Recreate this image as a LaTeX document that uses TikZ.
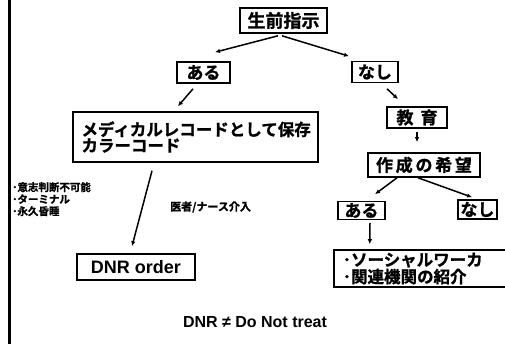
\documentclass[tikz,border=0pt]{standalone}
\usepackage{fontspec}
\setmainfont{Liberation Sans}
\newfontfamily\jp{Noto Sans CJK JP}[BoldFont={* Bold},BoldFeatures={FakeBold=1.2}]
\newfontfamily\jpw{Noto Sans CJK JP}[BoldFont={* Bold},BoldFeatures={FakeBold=1.2},LetterSpace=16]
\usetikzlibrary{arrows.meta,calc}
\begin{document}
\begin{tikzpicture}[x=1pt,y=-1pt,
  box/.style={draw,line width=1.6pt,inner sep=0pt,font=\jp\bfseries\fontsize{17}{20}\selectfont},
  arr/.style={line width=1.5pt,-{Latex[length=5pt,width=4.5pt]}}]
\clip (0,0) rectangle (505,344);
\fill[white] (0,0) rectangle (505,344);
\draw[line width=3pt] (9,0) -- (9,344);
% nodes
\node[box,minimum width=87pt,minimum height=25pt] (seizen) at (283.5,20.5) {\fontsize{18}{20}\selectfont 生前指示};
\node[box,minimum width=53pt,minimum height=21pt] (aru1) at (203.5,72.5) {ある};
\node[box,minimum width=46pt,minimum height=21pt] (nashi1) at (375,72) {なし};
\node[box,minimum height=50pt,text width=228pt,inner xsep=8.5pt,align=left,
  font=\jp\bfseries\fontsize{16.5}{16}\selectfont] (medical) at (195.5,137) {メディカルレコードとして保存\\カラーコード};
\node[box,minimum width=60pt,minimum height=21pt] (kyoiku) at (417,117.5) {教\hspace{7pt}育};
\node[box,minimum width=112pt,minimum height=24pt,font=\jpw\bfseries\fontsize{17}{20}\selectfont] (sakusei) at (424,165) {作成の希望};
\node[box,minimum width=47pt,minimum height=18pt] (aru2) at (361.5,210.5) {ある};
\node[box,minimum width=39pt,minimum height=19pt] (nashi2) at (477.5,209.5) {なし};
\node[box,anchor=west,minimum height=37pt,text width=160pt,inner xsep=9pt,align=left,
  font=\jp\bfseries\fontsize{16.5}{17}\selectfont] (social) at (333,268.5) {･ソーシャルワーカ\\･関連機関の紹介};
\node[box,minimum width=118pt,minimum height=26pt,font=\bfseries\fontsize{18}{20}\selectfont] (dnr) at (136,267) {DNR order};
\node[anchor=north west,inner sep=0pt,align=left,font=\jp\bfseries\fontsize{10.5}{12}\selectfont] (cond) at (12,182) {･意志判断不可能\\･ターミナル\\･永久昏睡};
\node[anchor=west,inner sep=0pt,font=\jp\bfseries\fontsize{11}{12}\selectfont] (doc) at (170,207) {医者/ナース介入};
\node[inner sep=0pt,font=\bfseries\fontsize{16}{18}\selectfont] (title) at (255,322) {DNR ≠ Do Not treat};
% connectors
\draw[arr] ($(seizen.south)+(-5.5,2)$) -- ($(aru1.north)+(11.5,-9)$);
\draw[arr] ($(seizen.south)+(-1.5,2)$) -- ($(nashi1.north)+(-26,-4.5)$);
\draw[arr] ($(aru1.south)+(-10.5,5)$) -- ($(medical.north)+(-17.5,-5)$);
\draw[arr] ($(nashi1.south)+(12,5.5)$) -- ($(kyoiku.north)+(-19,-7)$);
\draw[arr] ($(kyoiku.south)+(0,3)$) -- ($(sakusei.north)+(-7,-10)$);
\draw[arr] ($(sakusei.south)+(-27,0)$) -- ($(aru2.north)+(13.5,-6.5)$);
\draw[arr] ($(sakusei.south)+(-6,0)$) -- ($(nashi2.north)+(-5.5,-2)$);
\draw[arr] ($(aru2.south)+(8.5,2.5)$) -- ($(social.north)+(-53,-5)$);
\draw[arr] ($(medical.south)+(-43.5,8)$) -- ($(dnr.north)+(-4,-7)$);
\end{tikzpicture}
\end{document}
